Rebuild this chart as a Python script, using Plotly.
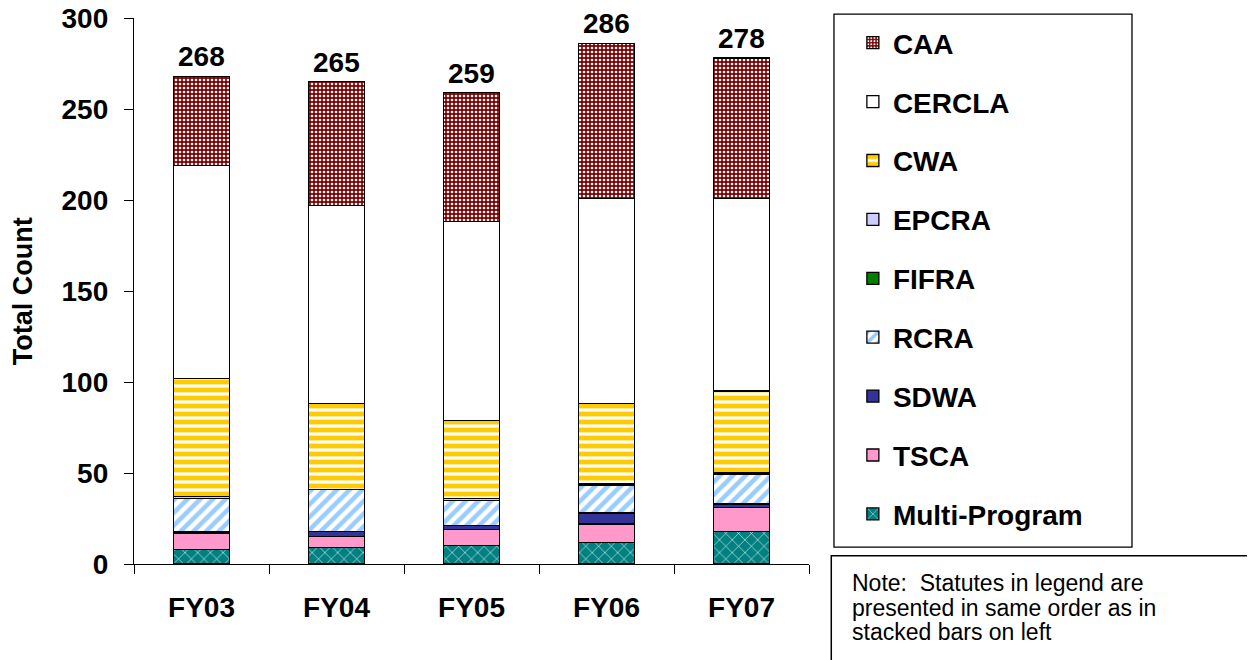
import plotly.graph_objects as go

# Enforcement counts by statute, FY03-FY07
YEARS = ['FY03', 'FY04', 'FY05', 'FY06', 'FY07']

MULTI  = [8, 9, 10, 12, 18]
TSCA   = [9, 6, 9, 10, 13]
SDWA   = [1, 3, 2, 6, 2]
RCRA   = [18, 23, 14, 15, 16]
FIFRA  = [0, 0, 0, 0, 0]
EPCRA  = [1, 0, 1, 1, 1]
CWA    = [65, 47, 43, 44, 45]
CERCLA = [117, 109, 109, 113, 106]
CAA    = [49, 68, 71, 85, 77]

NOTE_LINES = ['Note:  Statutes in legend are',
              'presented in same order as in',
              'stacked bars on left']

FONT = 'Arial, Liberation Sans, sans-serif'
OUTLINE = dict(color='black', width=1.3)

# name, values, base colour, pattern (stack order bottom -> top)
SERIES = [
    ('Multi-Program', MULTI, '#008080', dict(shape='x', fgcolor='white', bgcolor='#008080', size=9, solidity=0.12)),
    ('TSCA', TSCA, '#FF99CC', None),
    ('SDWA', SDWA, '#333399', None),
    ('RCRA', RCRA, '#99CCFF', dict(shape='/', fgcolor='#99CCFF', bgcolor='white', size=9, solidity=0.5)),
    ('FIFRA', FIFRA, '#008000', None),
    ('EPCRA', EPCRA, '#CCCCFF', None),
    ('CWA', CWA, '#FFCC00', dict(shape='-', fgcolor='#FFCC00', bgcolor='white', size=8, solidity=0.6)),
    ('CERCLA', CERCLA, 'white', None),
    ('CAA', CAA, '#7F0000', dict(shape='.', fgcolor='white', bgcolor='#7F0000', size=4, solidity=0.35)),
]

fig = go.Figure()

n = len(SERIES)
for i, (name, vals, color, pat) in enumerate(SERIES):
    marker = dict(color=color, line=OUTLINE)
    if pat is not None:
        marker['pattern'] = dict(pat, fgopacity=1)
    fig.add_trace(go.Bar(
        x=YEARS, y=vals, name=name, marker=marker,
        legendgroup=name, legendrank=n - i,
        hoverinfo='none', width=0.41
    ))

# totals above each bar
totals = [sum(v) for v in zip(MULTI, TSCA, SDWA, RCRA, FIFRA, EPCRA, CWA, CERCLA, CAA)]
for yr, tot in zip(YEARS, totals):
    fig.add_annotation(
        x=yr, y=tot, text=f'<b>{tot}</b>', showarrow=False,
        yanchor='bottom', yshift=2, font=dict(size=28, color='black', family=FONT)
    )

# y axis title
fig.add_annotation(
    xref='paper', yref='paper', x=-0.164, y=0.5, textangle=-90,
    xanchor='center', yanchor='middle',
    text='<b>Total Count</b>', showarrow=False,
    font=dict(size=27, color='black', family=FONT)
)

# legend frame and note box
fig.add_shape(type='rect', xref='paper', yref='paper',
              x0=1.037, x1=1.4785, y0=0.031, y1=1.007,
              line=dict(color='black', width=1.3))
fig.add_shape(type='rect', xref='paper', yref='paper',
              x0=1.033, x1=1.75, y0=-0.20, y1=0.015,
              line=dict(color='black', width=1.5))
for k, line in enumerate(NOTE_LINES):
    fig.add_annotation(
        xref='paper', yref='paper', x=1.06, y=-0.035 - 0.045 * k,
        xanchor='left', yanchor='middle', showarrow=False, text=line,
        font=dict(size=23, color='black', family=FONT)
    )

fig.update_layout(
    width=1255, height=660,
    margin=dict(l=126, r=454, t=10, b=104, autoexpand=False),
    barmode='stack',
    plot_bgcolor='white', paper_bgcolor='white',
    font=dict(family=FONT, color='black'),
    showlegend=True,
    legend=dict(
        x=1.065, y=1.0, xanchor='left', yanchor='top',
        traceorder='grouped', tracegroupgap=19.5,
        font=dict(size=28, family=FONT, weight='bold'),
        bgcolor='rgba(0,0,0,0)', borderwidth=0
    ),
    xaxis=dict(
        showline=True, linecolor='black', linewidth=1.3,
        ticks='outside', tickson='boundaries', ticklen=9, tickcolor='black',
        ticklabelstandoff=18, automargin=False,
        tickfont=dict(size=28, family=FONT, weight='bold'),
        showgrid=False
    ),
    yaxis=dict(
        range=[0, 300], tickvals=[0, 50, 100, 150, 200, 250, 300],
        showline=True, linecolor='black', linewidth=1.3,
        ticks='outside', ticklen=9, tickcolor='black',
        ticklabelstandoff=10, automargin=False, ticklabeloverflow='allow',
        tickfont=dict(size=28, family=FONT, weight='bold'),
        showgrid=False, zeroline=False
    ),
)

fig.write_html('out.html')
